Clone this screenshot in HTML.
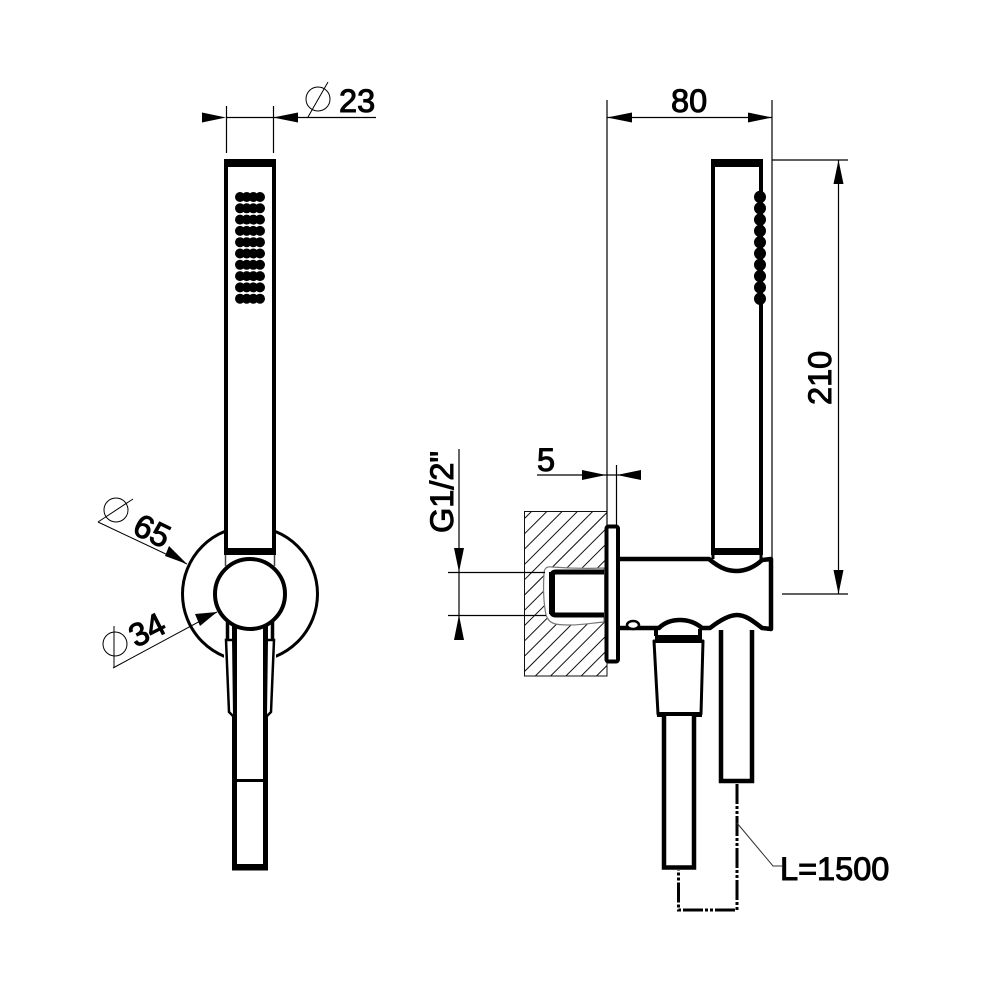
<!DOCTYPE html>
<html>
<head>
<meta charset="utf-8">
<style>
html,body{margin:0;padding:0;background:#fff;}
svg{display:block;}
text{font-family:"Liberation Sans",sans-serif;font-size:32.5px;fill:#000;stroke:#000;stroke-width:1px;}
</style>
</head>
<body>
<svg width="1000" height="1000" viewBox="0 0 1000 1000" xmlns="http://www.w3.org/2000/svg">
<defs>
<clipPath id="wall"><rect x="524.5" y="511.5" width="82.5" height="164.5"/></clipPath>
</defs>
<rect width="1000" height="1000" fill="#fff"/>

<!-- LEFT VIEW -->
<circle cx="250" cy="594" r="67.5" fill="#fff" stroke="#000" stroke-width="3"/>
<rect x="224" y="530" width="52" height="36" fill="#fff"/>
<rect x="224" y="622" width="52" height="50" fill="#fff"/>
<!-- handle -->
<rect x="226" y="161" width="48" height="392" fill="#fff" stroke="#000" stroke-width="4"/>
<rect x="224" y="159" width="52" height="8" fill="#000"/>
<rect x="224" y="548" width="52" height="7" fill="#000"/>
<path d="M225.5 555V566M274.5 555V566" stroke="#444" stroke-width="1.5"/>
<g fill="#000">
<g><circle cx="240" cy="197" r="5"/><circle cx="246.7" cy="197" r="5"/><circle cx="253.3" cy="197" r="5"/><circle cx="260" cy="197" r="5"/></g>
<g><circle cx="240" cy="208.3" r="5"/><circle cx="246.7" cy="208.3" r="5"/><circle cx="253.3" cy="208.3" r="5"/><circle cx="260" cy="208.3" r="5"/></g>
<g><circle cx="240" cy="219.6" r="5"/><circle cx="246.7" cy="219.6" r="5"/><circle cx="253.3" cy="219.6" r="5"/><circle cx="260" cy="219.6" r="5"/></g>
<g><circle cx="240" cy="230.9" r="5"/><circle cx="246.7" cy="230.9" r="5"/><circle cx="253.3" cy="230.9" r="5"/><circle cx="260" cy="230.9" r="5"/></g>
<g><circle cx="240" cy="242.2" r="5"/><circle cx="246.7" cy="242.2" r="5"/><circle cx="253.3" cy="242.2" r="5"/><circle cx="260" cy="242.2" r="5"/></g>
<g><circle cx="240" cy="253.5" r="5"/><circle cx="246.7" cy="253.5" r="5"/><circle cx="253.3" cy="253.5" r="5"/><circle cx="260" cy="253.5" r="5"/></g>
<g><circle cx="240" cy="264.8" r="5"/><circle cx="246.7" cy="264.8" r="5"/><circle cx="253.3" cy="264.8" r="5"/><circle cx="260" cy="264.8" r="5"/></g>
<g><circle cx="240" cy="276.1" r="5"/><circle cx="246.7" cy="276.1" r="5"/><circle cx="253.3" cy="276.1" r="5"/><circle cx="260" cy="276.1" r="5"/></g>
<g><circle cx="240" cy="287.4" r="5"/><circle cx="246.7" cy="287.4" r="5"/><circle cx="253.3" cy="287.4" r="5"/><circle cx="260" cy="287.4" r="5"/></g>
<g><circle cx="240" cy="298.7" r="5"/><circle cx="246.7" cy="298.7" r="5"/><circle cx="253.3" cy="298.7" r="5"/><circle cx="260" cy="298.7" r="5"/></g>
</g>
<!-- hose and lever left -->
<path d="M234.5 625V868H265.5V625" fill="#fff" stroke="#000" stroke-width="5"/>
<path d="M232 780.5H268" stroke="#000" stroke-width="3"/>
<path d="M237 865.5H263" stroke="#000" stroke-width="3"/>
<path d="M232 640L226 640L229 712L233 716" fill="#fff" stroke="#000" stroke-width="2.5"/>
<path d="M268 640L274 640L271 712L267 716" fill="#fff" stroke="#000" stroke-width="2.5"/>
<path d="M227.5 622V640M272.5 622V640" stroke="#000" stroke-width="3.5"/>
<circle cx="250" cy="594" r="35" fill="#fff" stroke="#000" stroke-width="4"/>

<!-- RIGHT VIEW -->
<path clip-path="url(#wall)" fill="none" stroke="#111" stroke-width="1" d="M543 500L353 690M558.3 500L368.3 690M573.6 500L383.6 690M588.9 500L398.9 690M604.2 500L414.2 690M619.5 500L429.5 690M634.8 500L444.8 690M650.1 500L460.1 690M665.4 500L475.4 690M680.7 500L490.7 690M696 500L506 690M711.3 500L521.3 690M726.6 500L536.6 690M741.9 500L551.9 690M757.2 500L567.2 690M772.5 500L582.5 690"/>
<rect x="524.5" y="511.5" width="82.5" height="164.5" fill="none" stroke="#111" stroke-width="1"/>
<path d="M604 568C580 569 565 568 552 567C546 566 544 569 544 574C543 590 544 605 546 615C549 624 555 625 570 625C582 625 592 623 604 622Z" fill="#fff" stroke="#777" stroke-width="1.2"/>
<!-- stub -->
<path d="M604 572H556Q551.5 572 551.5 577V611Q551.5 615 556 615H604" fill="#fff" stroke="#000" stroke-width="5"/>
<rect x="549" y="572" width="6" height="42" fill="#000"/>
<!-- body -->
<path d="M619 559H709C722 570 730 571 737 571C745 571 755 567 762 560L771 559V629L762 628C752 620 745 615 737 615C729 615 719 621 710 628H702C695 622 688 620 680 620C672 620 665 622 659 628H619" fill="#fff" stroke="#000" stroke-width="4.5" stroke-linejoin="round"/>
<ellipse cx="633" cy="625" rx="6" ry="4" fill="#fff" stroke="#000" stroke-width="2.5"/>
<!-- plate -->
<rect x="606.5" y="526.5" width="11.5" height="135" rx="2" fill="#fff" stroke="#000" stroke-width="4"/>
<rect x="604.5" y="528" width="4" height="132" fill="#000"/>
<!-- handle -->
<rect x="713" y="161" width="48" height="392" fill="#fff" stroke="#000" stroke-width="4"/>
<rect x="711" y="159" width="52" height="8" fill="#000"/>
<rect x="714" y="548" width="46" height="7" fill="#000"/>
<path d="M713 553V559M761 553V560" stroke="#000" stroke-width="3"/>
<g fill="#000">
<ellipse cx="760" cy="197" rx="6" ry="6.2"/><ellipse cx="760" cy="208.3" rx="6" ry="6.2"/><ellipse cx="760" cy="219.6" rx="6" ry="6.2"/><ellipse cx="760" cy="230.9" rx="6" ry="6.2"/><ellipse cx="760" cy="242.2" rx="6" ry="6.2"/><ellipse cx="760" cy="253.5" rx="6" ry="6.2"/><ellipse cx="760" cy="264.8" rx="6" ry="6.2"/><ellipse cx="760" cy="276.1" rx="6" ry="6.2"/><ellipse cx="760" cy="287.4" rx="6" ry="6.2"/><ellipse cx="760" cy="298.7" rx="6" ry="6.2"/>
</g>
<!-- nozzle -->
<path d="M656 636V629M700 636V629" stroke="#000" stroke-width="4"/>
<path d="M654 641L658 714H701L703 641Z" fill="#fff" stroke="#000" stroke-width="3" stroke-linejoin="round"/>
<rect x="655" y="635" width="47" height="8" fill="#000"/>
<rect x="657" y="712" width="45" height="5" fill="#000"/>
<!-- hoses -->
<path d="M664 716V867.5H694V716" fill="#fff" stroke="#000" stroke-width="4.5"/>
<path d="M721 630V781H752V630" fill="#fff" stroke="#000" stroke-width="4.5"/>
<!-- dash dot -->
<path d="M737 784V910H678.5V870" fill="none" stroke="#000" stroke-width="3" stroke-dasharray="20 2 3 2 3 2"/>
<path d="M737 823L773 866H782" fill="none" stroke="#333" stroke-width="1"/>

<!-- DIMENSIONS -->
<g stroke="#000" stroke-width="1.2" fill="none">
<path d="M226.5 106V153M273.5 106V153M226 117.5H376"/>
<circle cx="318" cy="99" r="12" stroke-width="1"/>
<path d="M308 117L328 82" stroke-width="1"/>
<path d="M607 100V526M772 100V558M607 117.5H772"/>
<path d="M772 160H848M782 594H848M838.5 160V594"/>
<path d="M537 475H641M616.5 465V525"/>
<path d="M459 449V640M448 572.5H545M448 615.5H546"/>
<path d="M98 522L187 564" stroke-width="1"/>
<circle cx="116" cy="510" r="12" stroke-width="1"/>
<path d="M98 522L133 499" stroke-width="1"/>
<path d="M113 668L217 612" stroke-width="1"/>
<circle cx="115" cy="644" r="12" stroke-width="1"/>
<path d="M114 626V668" stroke-width="1"/>
</g>
<g fill="#000">
<path d="M226 117.5L202 112.5V122.5Z"/>
<path d="M273 117.5L298 112.5V122.5Z"/>
<path d="M607 117.5L632 112.5V122.5Z"/>
<path d="M772 117.5L748 112.5V122.5Z"/>
<path d="M838.5 160L833.5 184H843.5Z"/>
<path d="M838.5 594L833.5 570H843.5Z"/>
<path d="M606 475L582 470V480Z"/>
<path d="M617 475L641 470V480Z"/>
<path d="M459 572L454 548H464Z"/>
<path d="M459 615L454 640H464Z"/>
<path d="M187 564L169 546L165 556Z"/>
<path d="M217 612L195 614L200 626Z"/>
</g>
<text x="339" y="112">23</text>
<text x="671" y="112">80</text>
<text x="537" y="471">5</text>
<text x="780" y="880">L=1500</text>
<text transform="translate(831,405) rotate(-90)">210</text>
<text transform="translate(453,533) rotate(-90)">G1/2"</text>
<text transform="translate(131,533) rotate(26)">65</text>
<text transform="translate(136,648) rotate(-27)">34</text>
</svg>
</body>
</html>
